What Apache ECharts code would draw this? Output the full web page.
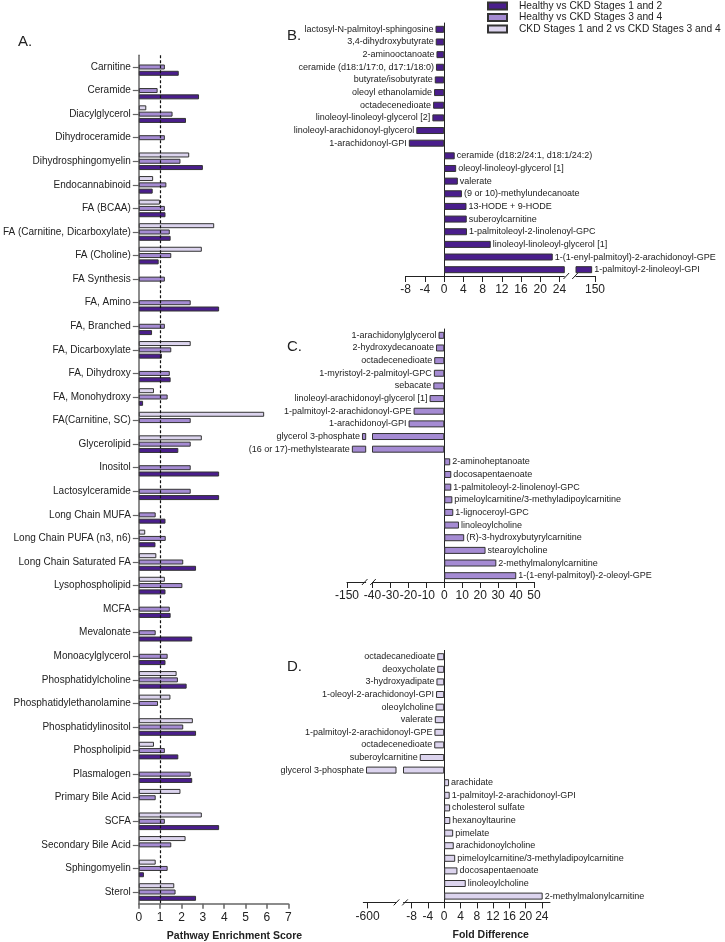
<!DOCTYPE html>
<html><head><meta charset="utf-8">
<script src="https://cdn.jsdelivr.net/npm/echarts@6/dist/echarts.min.js"></script>
<style>html,body{margin:0;padding:0;background:#fff}#c{width:725px;height:942px}</style>
</head><body><div id="c"></div>
<script>
// ---------------- DATA ----------------
const pathways = ['Carnitine','Ceramide','Diacylglycerol','Dihydroceramide','Dihydrosphingomyelin','Endocannabinoid','FA (BCAA)','FA (Carnitine, Dicarboxylate)','FA (Choline)','FA Synthesis','FA, Amino','FA, Branched','FA, Dicarboxylate','FA, Dihydroxy','FA, Monohydroxy','FA(Carnitine, SC)','Glycerolipid','Inositol','Lactosylceramide','Long Chain MUFA','Long Chain PUFA (n3, n6)','Long Chain Saturated FA','Lysophospholipid','MCFA','Mevalonate','Monoacylglycerol','Phosphatidylcholine','Phosphatidylethanolamine','Phosphatidylinositol','Phospholipid','Plasmalogen','Primary Bile Acid','SCFA','Secondary Bile Acid','Sphingomyelin','Sterol'];
const healthyVsStage12 = [1.87,2.82,2.21,null,3.0,0.65,1.25,1.49,0.93,null,3.76,0.62,1.08,1.49,0.2,null,1.85,3.76,3.76,1.25,0.78,2.68,1.25,1.49,2.5,1.25,2.24,null,2.68,1.85,2.5,null,3.76,null,0.24,2.68];
const healthyVsStage34 = [1.22,0.88,1.58,1.22,1.95,1.29,1.22,1.45,1.52,1.22,2.43,1.22,1.52,1.45,1.35,2.43,2.43,2.43,2.43,0.79,1.26,2.08,2.04,1.45,0.79,1.35,1.83,0.9,2.08,1.22,2.43,0.79,1.22,1.52,1.35,1.72];
const stage12VsStage34 = [null,null,0.35,null,2.36,0.67,0.99,3.53,2.95,null,null,null,2.43,null,0.71,5.87,2.95,null,null,null,0.3,0.82,1.22,null,null,null,1.77,1.48,2.53,0.71,null,1.95,2.95,2.19,0.79,1.66];
const seriesNames = ['Healthy vs CKD Stages 1 and 2','Healthy vs CKD Stages 3 and 4','CKD Stages 1 and 2 vs CKD Stages 3 and 4'];

const bNames = ['lactosyl-N-palmitoyl-sphingosine','3,4-dihydroxybutyrate','2-aminooctanoate','ceramide (d18:1/17:0, d17:1/18:0)','butyrate/isobutyrate','oleoyl ethanolamide','octadecenedioate','linoleoyl-linoleoyl-glycerol [2]','linoleoyl-arachidonoyl-glycerol','1-arachidonoyl-GPI','ceramide (d18:2/24:1, d18:1/24:2)','oleoyl-linoleoyl-glycerol [1]','valerate','(9 or 10)-methylundecanoate','13-HODE + 9-HODE','suberoylcarnitine','1-palmitoleoyl-2-linolenoyl-GPC','linoleoyl-linoleoyl-glycerol [1]','1-(1-enyl-palmitoyl)-2-arachidonoyl-GPE','1-palmitoyl-2-linoleoyl-GPI'];
const bValues = [-1.8,-1.75,-1.6,-1.7,-1.95,-2.1,-2.3,-2.45,-5.8,-7.35,2.2,2.5,2.85,3.7,4.65,4.7,4.75,9.7,22.6,148.5];

const cNames = ['1-arachidonylglycerol','2-hydroxydecanoate','octadecenedioate','1-myristoyl-2-palmitoyl-GPC','sebacate','linoleoyl-arachidonoyl-glycerol [1]','1-palmitoyl-2-arachidonoyl-GPE','1-arachidonoyl-GPI','glycerol 3-phosphate','(16 or 17)-methylstearate','2-aminoheptanoate','docosapentaenoate','1-palmitoleoyl-2-linolenoyl-GPC','pimeloylcarnitine/3-methyladipoylcarnitine','1-lignoceroyl-GPC','linoleoylcholine','(R)-3-hydroxybutyrylcarnitine','stearoylcholine','2-methylmalonylcarnitine','1-(1-enyl-palmitoyl)-2-oleoyl-GPE'];
const cValues = [-3.2,-4.6,-5.6,-5.8,-6.1,-8.2,-17.1,-19.9,-110,-137,3.3,3.9,3.9,4.5,5.0,8.2,11.1,23,29,40.1];

const dNames = ['octadecanedioate','deoxycholate','3-hydroxyadipate','1-oleoyl-2-arachidonoyl-GPI','oleoylcholine','valerate','1-palmitoyl-2-arachidonoyl-GPE','octadecenedioate','suberoylcarnitine','glycerol 3-phosphate','arachidate','1-palmitoyl-2-arachidonoyl-GPI','cholesterol sulfate','hexanoyltaurine','pimelate','arachidonoylcholine','pimeloylcarnitine/3-methyladipoylcarnitine','docosapentaenoate','linoleoylcholine','2-methylmalonylcarnitine'];
const dValues = [-1.7,-1.7,-1.9,-2.0,-2.1,-2.3,-2.4,-2.45,-6.0,-611,1.2,1.35,1.45,1.5,2.2,2.35,2.7,3.25,5.3,24.2];

const aTicks = [0,1,2,3,4,5,6,7];
const bTicksLeft = [-8,-4,0,4,8,12,16,20,24];
const bTicksRight = [150];
const cTicksLeft = [-150];
const cTicksRight = [-40,-30,-20,-10,0,10,20,30,40,50];
const dTicksLeft = [-600];
const dTicksRight = [-8,-4,0,4,8,12,16,20,24];

// ---------------- STYLE / LAYOUT ----------------
const FONT = '"Liberation Sans", Arial, Helvetica, sans-serif';
const C_DARK = '#4a1e8c', C_MED = '#a58bd3', C_LIGHT = '#dcd4ee', C_EDGE = '#333';
const gA  = {left:135,   top:55.2,  width:153.3, height:848.6};
const gB1 = {left:405.7, top:23,    width:158.6, height:253};
const gB2 = {left:576,   top:23,    width:19,    height:253};
const gC1 = {left:347,   top:329,   width:18.7,  height:253};
const gC2 = {left:372.5, top:329,   width:161.5, height:253};
const gD1 = {left:363.3, top:650.4, width:32.7,  height:252};
const gD2 = {left:403.5, top:650.4, width:146.5, height:252};
const grids = [gA,gB1,gB2,gC1,gC2,gD1,gD2];

const axLineA = {show:true, lineStyle:{color:'#666', width:1.5}};
const axLine = {show:true, lineStyle:{color:'#222', width:1}};

function segX(gi, min, max, ticks) {
  return {
    type:'value', gridIndex:gi, min:min, max:max,
    axisLine: axLine,
    axisTick: {show:true, length:6, lineStyle:{color:'#222'}, customValues: ticks},
    axisLabel: {fontSize:12, color:'#222', fontFamily:FONT, margin:8, customValues: ticks},
    splitLine: {show:false}
  };
}
function catY(gi, names, showLine) {
  return {
    type:'category', gridIndex:gi, data:names, inverse:true, show: showLine,
    axisLine: axLine, axisTick:{show:false}, axisLabel:{show:false}, splitLine:{show:false}
  };
}
function segSeries(xi, values, lo, hi, color) {
  return {
    type:'bar', xAxisIndex:xi, yAxisIndex:xi, barWidth:7, clip:true,
    itemStyle:{color:color, borderColor:C_EDGE, borderWidth:1},
    label:{show:false, formatter:'{b}', fontSize:9, color:'#222', fontFamily:FONT, distance:2},
    data: values.map(v => ({value:v, label:{show: v>=lo && v<=hi, position: v<0 ? 'left' : 'right'}})),
    silent:true
  };
}

const aSeriesStyle = (name, data, color) => ({
  name:name, type:'bar', xAxisIndex:0, yAxisIndex:0, data:data, barWidth:5, barGap:'26%',
  itemStyle:{color:color, borderColor:C_EDGE, borderWidth:1}
});

function slash(x, y) {
  return {type:'line', shape:{x1:x-2.8, y1:y+3, x2:x+2.8, y2:y-3}, style:{stroke:'#222', lineWidth:1}, z:100};
}
function txt(x, y, t, font, align) {
  return {type:'text', x:x, y:y, z:100, style:{text:t, font:font, fill:'#222', textAlign:align||'left', textVerticalAlign:'middle'}};
}

const sA = aSeriesStyle(seriesNames[2], stage12VsStage34, C_LIGHT);
sA.markLine = {silent:true, symbol:['none','none'], label:{show:false},
  lineStyle:{type:[3,2], color:'#111', width:1.2}, data:[{xAxis:1}]};

const option = {
  animation:false,
  textStyle:{fontFamily:FONT},
  grid: grids.map(g => ({left:g.left, top:g.top, width:g.width, height:g.height, containLabel:false})),
  legend: {
    orient:'vertical', left:487, top:1, padding:0, itemGap:1.5, itemWidth:19, itemHeight:7,
    icon:'rect', selectedMode:false,
    data: seriesNames,
    textStyle:{fontSize:10.2, color:'#222', fontFamily:FONT, padding:[0,0,0,7]}
  },
  xAxis: [
    {type:'value', gridIndex:0, min:0, max:7, interval:1, axisLine:axLineA,
     axisTick:{show:true, length:5, lineStyle:{color:'#666', width:1.5}, customValues:aTicks},
     axisLabel:{fontSize:12, color:'#222', fontFamily:FONT, margin:8, customValues:aTicks},
     splitLine:{show:false}},
    segX(1, -8, 25, bTicksLeft),
    segX(2, 140, 150, bTicksRight),
    segX(3, -150, -100, cTicksLeft),
    segX(4, -40, 50, cTicksRight),
    segX(5, -630, -400, dTicksLeft),
    segX(6, -10, 26, dTicksRight)
  ],
  yAxis: [
    {type:'category', gridIndex:0, data:pathways, inverse:true, axisLine:axLineA,
     axisTick:{show:true, alignWithLabel:true, length:6, lineStyle:{color:'#666', width:1.2}},
     axisLabel:{fontSize:10, color:'#222', fontFamily:FONT, margin:8}, splitLine:{show:false}},
    catY(1, bNames, true),
    catY(2, bNames, false),
    catY(3, cNames, false),
    catY(4, cNames, true),
    catY(5, dNames, false),
    catY(6, dNames, true)
  ],
  series: [
    sA,
    aSeriesStyle(seriesNames[1], healthyVsStage34, C_MED),
    aSeriesStyle(seriesNames[0], healthyVsStage12, C_DARK),
    segSeries(1, bValues, -8, 25, C_DARK),
    segSeries(2, bValues, 140, 150, C_DARK),
    segSeries(3, cValues, -150, -100, C_MED),
    segSeries(4, cValues, -40, 50, C_MED),
    segSeries(5, dValues, -630, -400, C_LIGHT),
    segSeries(6, dValues, -10, 26, C_LIGHT)
  ],
  graphic: [
    txt(18, 42, 'A.', '15px ' + FONT),
    txt(287, 36, 'B.', '15px ' + FONT),
    txt(287, 347, 'C.', '15px ' + FONT),
    txt(287, 667, 'D.', '15px ' + FONT),
    txt(234.5, 936, 'Pathway Enrichment Score', 'bold 10.5px ' + FONT, 'center'),
    txt(490.7, 935, 'Fold Difference', 'bold 10.5px ' + FONT, 'center'),
    slash(gB1.left + gB1.width + 2, gB1.top + gB1.height),
    slash(gB2.left - 1, gB2.top + gB2.height),
    slash(gC1.left + gC1.width - 1, gC1.top + gC1.height),
    slash(gC2.left + 0.5, gC2.top + gC2.height),
    slash(gD1.left + gD1.width + 0.5, gD1.top + gD1.height),
    slash(gD2.left + 1.5, gD2.top + gD2.height)
  ]
};

const chart = echarts.init(document.getElementById('c'), null, {renderer:'canvas'});
chart.setOption(option);
</script>
</body></html>
